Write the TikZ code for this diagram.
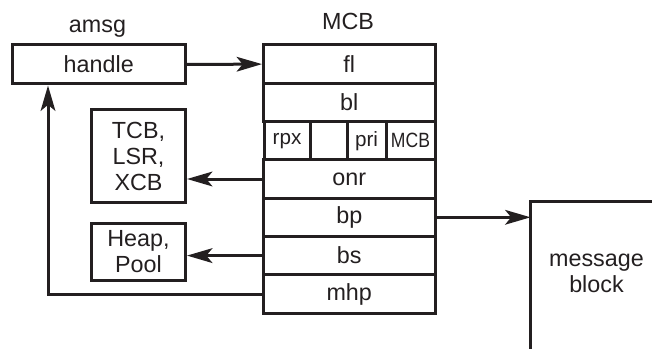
\documentclass[tikz,border=0pt]{standalone}
\usepackage{fontspec}
\setmainfont{Liberation Sans}
\usetikzlibrary{arrows.meta,calc}
\definecolor{ink}{RGB}{35,31,32}
\begin{document}
\begin{tikzpicture}[x=0.75pt,y=-0.75pt, color=ink,
  txt/.style={font=\fontsize{17.5}{19.5}\selectfont, text=ink, align=center},
  box/.style={draw=ink, line width=2.25pt, inner sep=0pt, txt},
  row/.style={box, minimum width=171.5*0.75pt, minimum height=38.3*0.75pt},
  cell/.style={box, minimum height=38.3*0.75pt, font=\fontsize{15.5}{17}\selectfont},
  lbl/.style={inner sep=0pt, txt},
  arr/.style={-{Stealth[length=19pt,width=11pt,inset=4.5pt]}, line width=2.25pt, draw=ink}
]
\useasboundingbox (0,0) rectangle (652,349);
% labels
\node[lbl, anchor=base] (amsg) at (97.5,33) {amsg};
\node[lbl, anchor=base] (mcb) at (348,29.5) {MCB};
% amsg handle
\node[row, minimum width=172.5*0.75pt, minimum height=39*0.75pt] (handle) at (98.75,64.5) {handle};
% MCB rows
\node[row] (fl)  at (349.25,64.1)  {fl};
\node[row] (bl)  at (349.25,102.4) {bl};
\node[cell, minimum width=46*0.75pt] (rpx)  at (287,140.7)   {rpx};
\node[cell, minimum width=37*0.75pt] (blank) at (328.5,140.7) {};
\node[cell, minimum width=39*0.75pt] (pri)  at (366.5,140.7) {pri};
\node[cell, minimum width=49*0.75pt] (mcbc) at (410.5,140.7) {\scalebox{0.85}[1]{MCB}};
\node[row] (onr) at (349.25,179.0) {onr};
\node[row] (bp)  at (349.25,217.3) {bp};
\node[row] (bs)  at (349.25,255.6) {bs};
\node[row] (mhp) at (349.25,294.0) {mhp};
% side boxes
\node[box, minimum width=94*0.75pt, minimum height=92*0.75pt] (tcb) at (138.5,156) {TCB,\\LSR,\\XCB};
\node[box, minimum width=94*0.75pt, minimum height=57*0.75pt] (heap) at (138.5,251.5) {Heap,\\Pool};
% message block (open box)
\coordinate (mbc) at (530.5,201);
\draw[line width=2.25pt, draw=ink] (530.5,352) -- (mbc) -- (656,201);
\node[lbl] (msg) at (596.5,273) {message\\block};
% connectors
\draw[arr] (handle.east) -- (fl.west);
\draw[arr] (onr.west) -- (onr.west -| tcb.east);
\draw[arr] (bs.west) -- (bs.west -| heap.east);
\draw[arr] (bp.east) -- (bp.east -| mbc);
\draw[arr] (mhp.west) -| ($(handle.south west)+(37,0)$);
\end{tikzpicture}
\end{document}
